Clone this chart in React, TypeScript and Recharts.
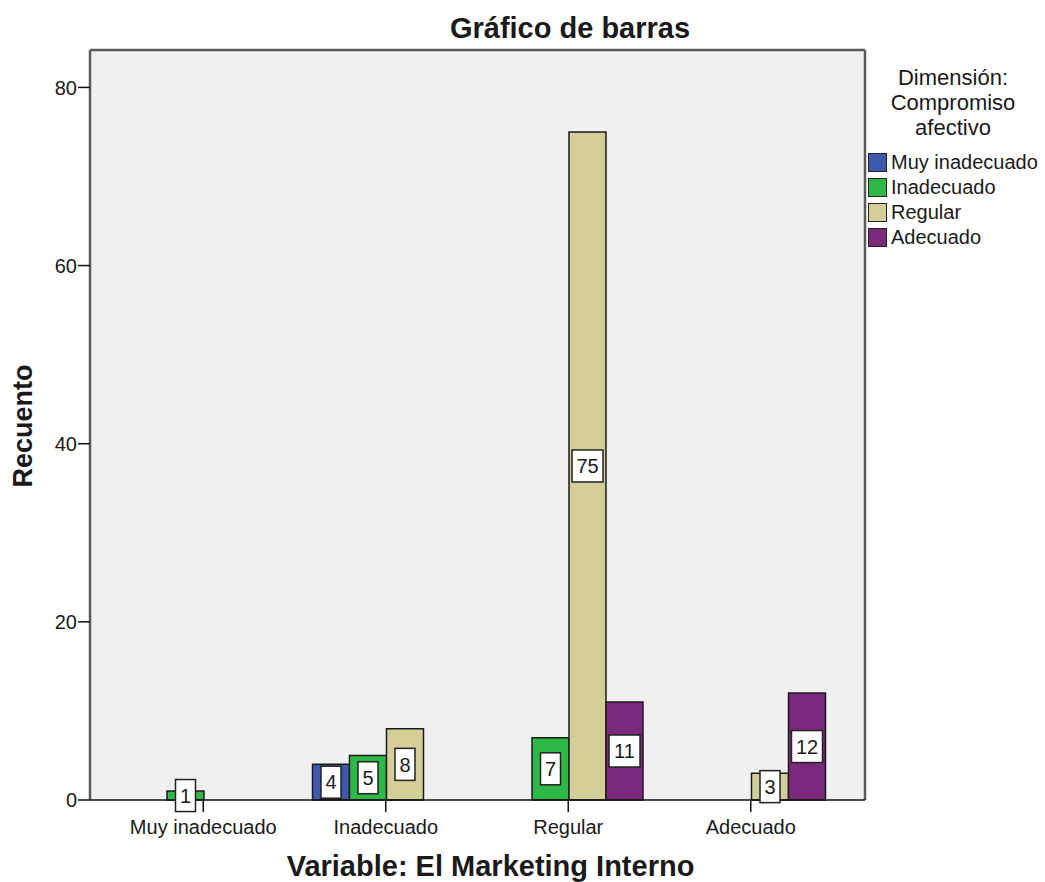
import { Bar, BarChart, CartesianGrid, Label, LabelList, Legend, XAxis, YAxis } from "recharts"

const FONT = '"Liberation Sans", Arial, sans-serif'
const TEXT_COLOR = "#1a1a1a"

const categories = ["Muy inadecuado", "Inadecuado", "Regular", "Adecuado"]
const muyInadecuado = [null, 4, null, null]
const inadecuado = [1, 5, 7, null]
const regular = [null, 8, 75, 3]
const adecuado = [null, null, 11, 12]
const yTicks = [0, 20, 40, 60, 80]

const seriesList = [
  { key: "muyInadecuado", name: "Muy inadecuado", color: "#3E58AC" },
  { key: "inadecuado", name: "Inadecuado", color: "#2EB848" },
  { key: "regular", name: "Regular", color: "#D3CE97" },
  { key: "adecuado", name: "Adecuado", color: "#7C287D" },
]

const data = categories.map((category, i) => ({
  category,
  muyInadecuado: muyInadecuado[i],
  inadecuado: inadecuado[i],
  regular: regular[i],
  adecuado: adecuado[i],
}))

// white box with the count, centred on the bar
function BoxLabel(props: any) {
  const vb = props.viewBox ?? props
  const { value } = props
  if (value == null || vb == null) return null
  const cx = vb.x + vb.width / 2
  const cy = vb.y + vb.height / 2
  const w = String(value).length > 1 ? 31 : 20
  const h = 32
  return (
    <g>
      <rect x={cx - w / 2} y={cy - h / 2} width={w} height={h} fill="#fff" stroke="#222" strokeWidth={1.5} />
      <text x={cx} y={cy} dy="0.36em" textAnchor="middle" fontSize={20} fontFamily={FONT} fill={TEXT_COLOR}>
        {value}
      </text>
    </g>
  )
}

function LegendBox() {
  return (
    <div style={{ fontFamily: FONT, color: TEXT_COLOR, textAlign: "left" }}>
      <div style={{ textAlign: "center", fontSize: 22, lineHeight: "25px", width: 176, marginBottom: 10 }}>
        Dimensión:
        <br />
        Compromiso
        <br />
        afectivo
      </div>
      {seriesList.map((s) => (
        <div key={s.key} style={{ display: "flex", alignItems: "center", height: 25, paddingLeft: 3 }}>
          <span
            style={{
              display: "inline-block",
              width: 19,
              height: 19,
              background: s.color,
              border: "1.5px solid #222",
              boxSizing: "border-box",
              marginRight: 4,
            }}
          />
          <span style={{ fontSize: 20, lineHeight: "25px" }}>{s.name}</span>
        </div>
      ))}
    </div>
  )
}

export default function App() {
  return (
    <div style={{ position: "absolute", left: 0, top: 0, width: 1045, height: 882, background: "#fff" }}>
      <div
        style={{
          position: "absolute",
          left: 270,
          top: 12,
          width: 600,
          textAlign: "center",
          fontFamily: FONT,
          fontWeight: "bold",
          fontSize: 29,
          color: TEXT_COLOR,
          zIndex: 2,
        }}
      >
        Gráfico de barras
      </div>
      <BarChart
        width={1045}
        height={882}
        data={data}
        margin={{ top: 50, right: 180, bottom: 0, left: 0 }}
        barCategoryGap={18}
        barGap={0}
      >
        {/* plot frame: lines on the edges of the plot area */}
        <CartesianGrid
          fill="#F0F0F0"
          stroke="#5a5a5a"
          strokeWidth={2.5}
          horizontalCoordinatesGenerator={({ offset }: any) => [offset.top]}
          verticalCoordinatesGenerator={({ offset }: any) => [offset.left, offset.left + offset.width]}
        />
        <XAxis
          dataKey="category"
          height={82}
          padding={{ left: 22, right: 23 }}
          tickSize={12}
          tickMargin={8}
          tick={{ fontSize: 20, fontFamily: FONT, fill: TEXT_COLOR }}
          tickLine={{ stroke: "#111", strokeWidth: 1.5 }}
          axisLine={{ stroke: "#111", strokeWidth: 1.5 }}
        >
          <Label
            content={(p: any) => {
              const vb = p.viewBox
              return (
                <text
                  x={vb.x + vb.width / 2 + 13}
                  y={vb.y + vb.height - 6}
                  textAnchor="middle"
                  fontSize={29}
                  fontWeight="bold"
                  fontFamily={FONT}
                  fill={TEXT_COLOR}
                >
                  Variable: El Marketing Interno
                </text>
              )
            }}
          />
        </XAxis>
        <YAxis
          width={90}
          domain={[0, 84.2]}
          ticks={yTicks}
          tickSize={12}
          tickMargin={1}
          tick={{ fontSize: 20, fontFamily: FONT, fill: TEXT_COLOR }}
          tickLine={{ stroke: "#111", strokeWidth: 1.5 }}
          axisLine={false}
        >
          <Label
            content={(p: any) => {
              const vb = p.viewBox
              const x = vb.x + 32
              const y = vb.y + vb.height / 2 + 1
              return (
                <text
                  x={x}
                  y={y}
                  transform={`rotate(-90 ${x} ${y})`}
                  textAnchor="middle"
                  fontSize={27}
                  fontWeight="bold"
                  fontFamily={FONT}
                  fill={TEXT_COLOR}
                >
                  Recuento
                </text>
              )
            }}
          />
        </YAxis>
        <Legend
          layout="vertical"
          align="center"
          verticalAlign="middle"
          wrapperStyle={{ left: 865, top: 65, width: 180 }}
          content={() => <LegendBox />}
        />
        {seriesList.map((s) => (
          <Bar
            key={s.key}
            dataKey={s.key}
            name={s.name}
            fill={s.color}
            stroke="#1a1a1a"
            strokeWidth={1.5}
            isAnimationActive={false}
          >
            <LabelList dataKey={s.key} content={BoxLabel} />
          </Bar>
        ))}
      </BarChart>
    </div>
  )
}
